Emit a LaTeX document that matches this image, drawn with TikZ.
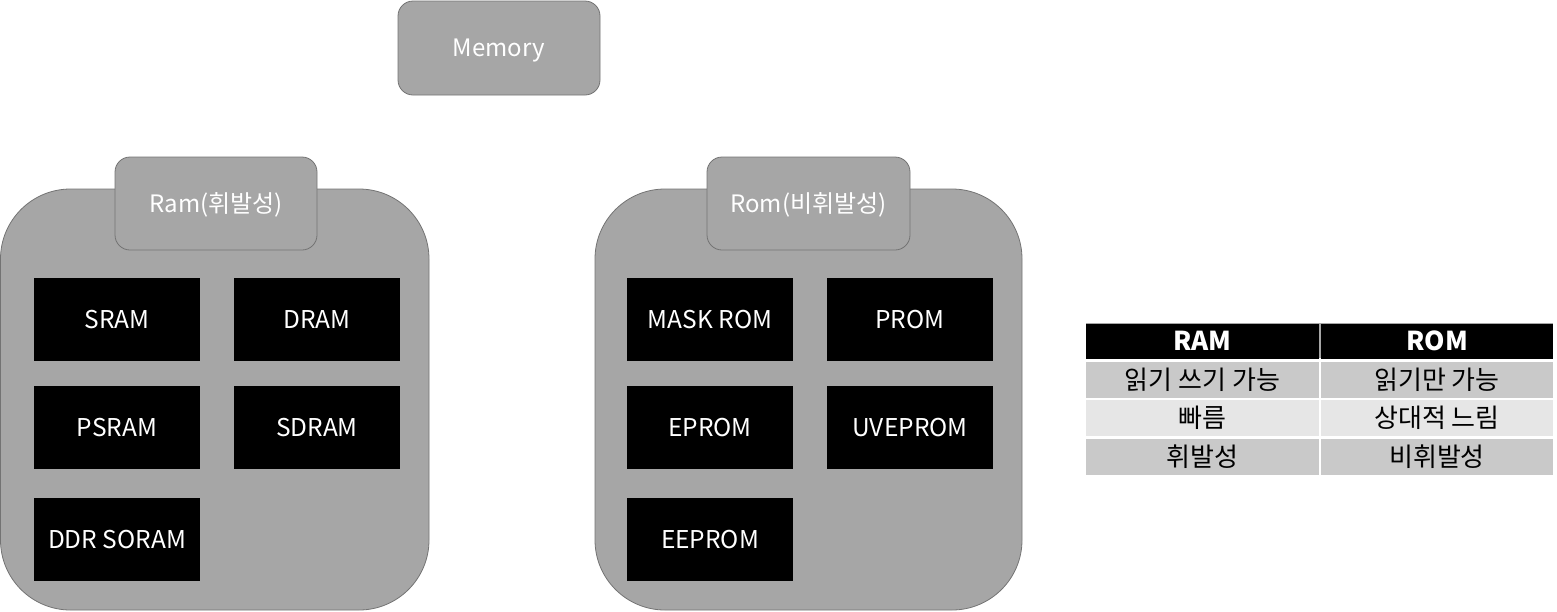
\documentclass[tikz,border=0pt]{standalone}
\usepackage{fontspec}
\setmainfont{Noto Sans CJK KR}
\begin{document}
\begin{tikzpicture}[x=1pt,y=-1pt,
  graybox/.style={draw=gray!90!black, line width=0.8pt, fill=boxgray, rounded corners=#1},
  tab/.style={draw=gray!90!black, line width=0.8pt, fill=boxgray, rounded corners=15pt, inner sep=0pt, text=white, font=\fontsize{24}{28}\selectfont, text height=17.5pt, text depth=0pt},
  blk/.style={fill=black, inner sep=0pt, minimum width=166pt, minimum height=83pt, text=white, font=\fontsize{24.5}{28}\selectfont, text height=18pt, text depth=0pt},
  hcell/.style={fill=black, inner sep=0pt, minimum height=35pt, text=white, font=\fontsize{26}{30}\selectfont\bfseries, text height=19pt, text depth=0pt},
  cellA/.style={fill=rowA, inner sep=0pt, minimum height=36pt, text=black, font=\fontsize{26}{30}\selectfont, text height=19pt, text depth=0pt},
  cellB/.style={fill=rowB, inner sep=0pt, minimum height=36pt, text=black, font=\fontsize{26}{30}\selectfont, text height=19pt, text depth=0pt}
]
\definecolor{boxgray}{HTML}{A6A6A6}
\definecolor{rowA}{HTML}{C9C9C9}
\definecolor{rowB}{HTML}{E6E6E6}
\useasboundingbox (0,0) rectangle (1557,611);

% Memory
\node[tab, minimum width=202pt, minimum height=94pt] (mem) at (499,48) {Memory};

% RAM group
\draw[graybox=70pt] (0.5,189) rectangle (429,610);
\node[tab, minimum width=202pt, minimum height=93pt] (ramtab) at (216,203.5) {Ram(휘발성)};
\node[blk] (sram) at (117,319.5) {SRAM};
\node[blk] (dram) at (317,319.5) {DRAM};
\node[blk] (psram) at (117,427.5) {PSRAM};
\node[blk] (sdram) at (317,427.5) {SDRAM};
\node[blk] (ddr) at (117,539.5) {DDR SORAM};

% ROM group
\draw[graybox=70pt] (595,189) rectangle (1022,610);
\node[tab, minimum width=203pt, minimum height=93pt] (romtab) at (808.5,203.5) {Rom(비휘발성)};
\node[blk] (mrom) at (710,319.5) {MASK ROM};
\node[blk] (prom) at (910,319.5) {PROM};
\node[blk] (eprom) at (710,427.5) {EPROM};
\node[blk] (uveprom) at (910,427.5) {UVEPROM};
\node[blk] (eeprom) at (710,539.5) {EEPROM};

% Table
\fill[gray!70] (1086,323) rectangle (1553,358);
\node[hcell, minimum width=233pt] (hram) at (1202.5,341) {RAM};
\node[hcell, minimum width=232pt] (hrom) at (1437,341) {ROM};
\node[cellA, minimum width=233pt] (a1) at (1202.5,380) {읽기 쓰기 가능};
\node[cellA, minimum width=232pt] (b1) at (1437,380) {읽기만 가능};
\node[cellB, minimum width=233pt] (a2) at (1202.5,418) {빠름};
\node[cellB, minimum width=232pt] (b2) at (1437,418) {상대적 느림};
\node[cellA, minimum width=233pt] (a3) at (1202.5,456.5) {휘발성};
\node[cellA, minimum width=232pt] (b3) at (1437,456.5) {비휘발성};
\end{tikzpicture}
\end{document}
